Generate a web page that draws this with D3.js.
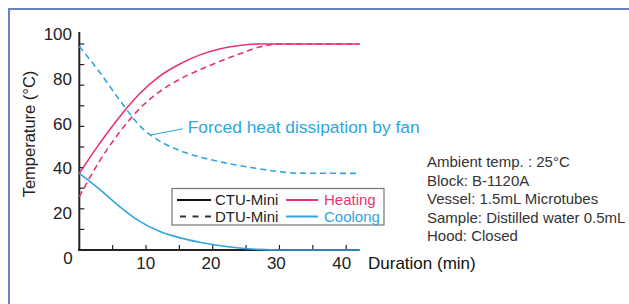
<!DOCTYPE html>
<html><head><meta charset="utf-8">
<script src="https://cdn.jsdelivr.net/npm/d3@7"></script>
<style>
html,body{margin:0;padding:0;background:#fff;}
svg{display:block;font-family:"Liberation Sans",Arial,Helvetica,sans-serif;}
</style></head>
<body>
<script>
// ---- data ----
const timeT = [0, 3, 6, 9, 12, 15, 18, 21, 24, 27, 30, 33, 42];
const ctuHeatV = [37.2, 51.5, 64.5, 75.7, 84.3, 90.2, 94.6, 97.6, 99.3, 100, 100, 100, 100];
const dtuHeatV = [25.9, 43, 57, 68.5, 76.8, 82.8, 87.4, 91.5, 95.2, 98.5, 100, 100, 100];
const ctuCoolV = [37.2, 29.6, 21.2, 14.0, 9.1, 6.0, 3.8, 2.2, 1.0, 0.3, 0, 0, 0];
const dtuCoolV = [98.9, 86.5, 73, 60.5, 53, 48.3, 45.2, 42.9, 41, 39.4, 38, 37.3, 37.2];
const xTicks = [5, 10, 15, 20, 25, 30, 35, 40];
const xTickLabels = ["10", "20", "30", "40"];
const yTicks = [10, 20, 30, 40, 50, 60, 70, 80, 90, 100];
const yTickLabels = ["100", "80", "60", "40", "20"];
const legendItems = ["CTU-Mini", "DTU-Mini", "Heating", "Coolong"];
const infoLines = ["Ambient temp. : 25°C", "Block:  B-1120A", "Vessel: 1.5mL Microtubes", "Sample: Distilled water 0.5mL", "Hood: Closed"];
const annotationText = "Forced heat dissipation by fan";
const annotationFrom = [10.7, 55.8];
const annotationTo = [15.5, 58.9];

// ---- setup ----
const W = 629, H = 304;
const PINK = "#e8336f", BLUE = "#2fa6de", INK = "#222";
const svg = d3.select("body").append("svg").attr("width", W).attr("height", H);

// frame
svg.append("rect").attr("x", 9).attr("y", 9).attr("width", 800).attr("height", 400)
  .attr("fill", "none").attr("stroke", "#6583c4").attr("stroke-width", 2);

const x = d3.scaleLinear().domain([0, 42]).range([79.3, 359.5]);
const y = d3.scaleLinear().domain([0, 100]).range([250, 44]);
// label placement scales (labels in reference are spaced slightly differently from ticks)
const xl = d3.scaleLinear().domain([10, 40]).range([145.7, 341.7]);
const yl = d3.scaleLinear().domain([0, 100]).range([264, 40]);

const g = svg.append("g");

// axes lines
g.append("line").attr("x1", x(0)).attr("x2", x(0)).attr("y1", y(0) + 1).attr("y2", 32)
  .attr("stroke", INK).attr("stroke-width", 2);
g.append("line").attr("x1", x(0) - 1).attr("x2", x(42)).attr("y1", y(0)).attr("y2", y(0))
  .attr("stroke", INK).attr("stroke-width", 2);

// ticks
g.selectAll(".xt").data(xTicks).join("line")
  .attr("x1", d => x(d)).attr("x2", d => x(d)).attr("y1", y(0)).attr("y2", y(0) - 5)
  .attr("stroke", INK).attr("stroke-width", 1.2);
g.selectAll(".yt").data(yTicks).join("line")
  .attr("x1", x(0)).attr("x2", x(0) + 5).attr("y1", d => y(d)).attr("y2", d => y(d))
  .attr("stroke", INK).attr("stroke-width", 1.2);

// tick labels
g.selectAll(".xtl").data(xTickLabels).join("text")
  .attr("x", d => xl(+d)).attr("y", 269).attr("text-anchor", "middle")
  .attr("font-size", 17).attr("fill", INK).text(d => d);
g.selectAll(".ytl").data(yTickLabels).join("text")
  .attr("x", 72).attr("y", d => yl(+d)).attr("text-anchor", "end")
  .attr("font-size", 17).attr("fill", INK).text(d => d);
g.append("text").attr("x", 68).attr("y", 264).attr("text-anchor", "middle")
  .attr("font-size", 17).attr("fill", INK).text("0");

// axis titles
g.append("text").attr("transform", "translate(35,134) rotate(-90)").attr("text-anchor", "middle")
  .attr("font-size", 16.5).attr("fill", INK).text("Temperature (°C)");
g.append("text").attr("x", 368).attr("y", 268.5).attr("font-size", 17).attr("fill", "#111")
  .text("Duration (min)");

// curves
const line = d3.line().x(d => x(d[0])).y(d => y(d[1])).curve(d3.curveMonotoneX);
const series = [
  {v: dtuCoolV, c: BLUE, dash: "6,4"},
  {v: dtuHeatV, c: PINK, dash: "6,4"},
  {v: ctuCoolV, c: BLUE, dash: null},
  {v: ctuHeatV, c: PINK, dash: null},
];
series.forEach(s => {
  g.append("path").datum(timeT.map((t, i) => [t, s.v[i]]))
    .attr("d", line).attr("fill", "none").attr("stroke", s.c).attr("stroke-width", 1.6)
    .attr("stroke-dasharray", s.dash);
});

// annotation
g.append("line").attr("x1", x(annotationFrom[0])).attr("y1", y(annotationFrom[1]))
  .attr("x2", x(annotationTo[0])).attr("y2", y(annotationTo[1]))
  .attr("stroke", BLUE).attr("stroke-width", 1.1);
g.append("text").attr("x", x(annotationTo[0]) + 5).attr("y", y(annotationTo[1]) + 4.5)
  .attr("font-size", 17.4).attr("fill", BLUE).text(annotationText);

// legend
const lg = svg.append("g");
lg.append("rect").attr("x", 172).attr("y", 188.5).attr("width", 212).attr("height", 36.5)
  .attr("fill", "#fff").attr("stroke", "#777").attr("stroke-width", 1.2);
const rows = [200, 216.5];
lg.append("line").attr("x1", 177).attr("x2", 211).attr("y1", rows[0]).attr("y2", rows[0])
  .attr("stroke", "#111").attr("stroke-width", 2.2);
lg.append("line").attr("x1", 180).attr("x2", 212).attr("y1", rows[1]).attr("y2", rows[1])
  .attr("stroke", "#333").attr("stroke-width", 1.8).attr("stroke-dasharray", "6,6.5");
lg.append("line").attr("x1", 286).attr("x2", 318).attr("y1", rows[0]).attr("y2", rows[0])
  .attr("stroke", PINK).attr("stroke-width", 2);
lg.append("line").attr("x1", 286).attr("x2", 318).attr("y1", rows[1]).attr("y2", rows[1])
  .attr("stroke", BLUE).attr("stroke-width", 2);
lg.append("text").attr("x", 215).attr("y", rows[0] + 5).attr("font-size", 15).attr("fill", INK).text(legendItems[0]);
lg.append("text").attr("x", 215).attr("y", rows[1] + 5).attr("font-size", 15).attr("fill", INK).text(legendItems[1]);
lg.append("text").attr("x", 324).attr("y", rows[0] + 5).attr("font-size", 15).attr("fill", PINK).text(legendItems[2]);
lg.append("text").attr("x", 324).attr("y", rows[1] + 5).attr("font-size", 15).attr("fill", BLUE).text(legendItems[3]);

// info text
svg.append("g").selectAll("text").data(infoLines).join("text")
  .attr("x", 427).attr("y", (d, i) => 167 + i * 18.5)
  .attr("font-size", 15).attr("fill", "#333").text(d => d);
</script>
</body></html>
